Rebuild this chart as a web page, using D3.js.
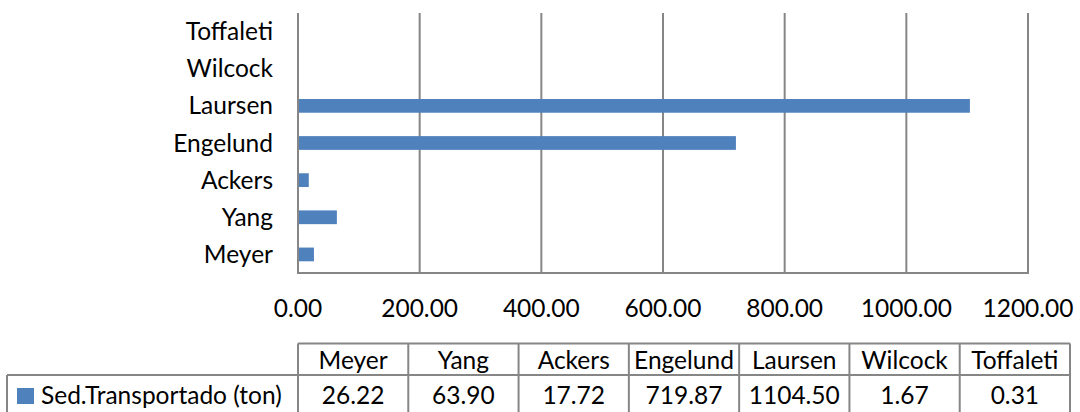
<!DOCTYPE html>
<html>
<head>
<meta charset="utf-8">
<script src="https://cdn.jsdelivr.net/npm/d3@7"></script>
<style>
  html, body { margin: 0; padding: 0; background: #fff; }
  svg { display: block; }
  text { font-family: Lato, "Open Sans", sans-serif; fill: #000; }
</style>
</head>
<body>
<svg id="chart" width="1080" height="412"></svg>
<script>
// ---- data ----
const categories = ["Meyer", "Yang", "Ackers", "Engelund", "Laursen", "Wilcock", "Toffaleti"];
const values = [26.22, 63.90, 17.72, 719.87, 1104.50, 1.67, 0.31];
const seriesName = "Sed.Transportado (ton)";
const tickValues = [0, 200, 400, 600, 800, 1000, 1200];

// ---- layout ----
const W = 1080, H = 412;
const plot = { left: 298, right: 1028, top: 13, bottom: 273 };
const table = { left: 298, right: 1070, legendLeft: 7, top: 343.5, mid: 375, bottom: 420 };
const barColor = "#4F81BD";
const gridColor = "#868686";
const fontSize = 24.5;

const svg = d3.select("#chart");

const x = d3.scaleLinear().domain([0, 1200]).range([plot.left, plot.right]);
const y = d3.scaleBand().domain(categories.slice().reverse()).range([plot.top, plot.bottom]).padding(0);
const barH = y.bandwidth() * 0.37;

// gridlines
svg.append("g").selectAll("line").data(tickValues).join("line")
  .attr("x1", d => x(d)).attr("x2", d => x(d))
  .attr("y1", plot.top).attr("y2", plot.bottom)
  .attr("stroke", gridColor).attr("stroke-width", 2);

// bottom axis line
svg.append("line")
  .attr("x1", plot.left - 1).attr("x2", plot.right + 1)
  .attr("y1", plot.bottom).attr("y2", plot.bottom)
  .attr("stroke", gridColor).attr("stroke-width", 2);

// bars
svg.append("g").selectAll("rect").data(categories).join("rect")
  .attr("x", x(0) + 1)
  .attr("y", d => y(d) + (y.bandwidth() - barH) / 2)
  .attr("width", (d, i) => Math.max(0, x(values[i]) - x(0) - 1))
  .attr("height", barH)
  .attr("fill", barColor);

// category labels
svg.append("g").selectAll("text").data(categories).join("text")
  .attr("x", plot.left - 25)
  .attr("y", d => y(d) + y.bandwidth() / 2 + 8.5)
  .attr("text-anchor", "end")
  .attr("font-size", fontSize)
  .text(d => d);

// x tick labels
svg.append("g").selectAll("text").data(tickValues).join("text")
  .attr("x", d => x(d))
  .attr("y", 317)
  .attr("text-anchor", "middle")
  .attr("font-size", fontSize)
  .text(d => d3.format(".2f")(d));

// ---- data table ----
const colX = d3.scaleBand().domain(categories).range([table.left, table.right]).padding(0);
const tg = svg.append("g");
const line = (x1, y1, x2, y2) => tg.append("line")
  .attr("x1", x1).attr("y1", y1).attr("x2", x2).attr("y2", y2)
  .attr("stroke", gridColor).attr("stroke-width", 2);

line(table.left, table.top, table.right, table.top);
line(table.legendLeft, table.mid, table.right, table.mid);
line(table.legendLeft, table.mid, table.legendLeft, table.bottom);
categories.forEach(c => line(colX(c), table.top, colX(c), table.bottom));
line(table.right, table.top, table.right, table.bottom);

tg.selectAll("text.h").data(categories).join("text").attr("class", "h")
  .attr("x", d => colX(d) + colX.bandwidth() / 2)
  .attr("y", 368.5)
  .attr("text-anchor", "middle")
  .attr("font-size", fontSize)
  .text(d => d);

tg.selectAll("text.v").data(categories).join("text").attr("class", "v")
  .attr("x", d => colX(d) + colX.bandwidth() / 2)
  .attr("y", 404)
  .attr("text-anchor", "middle")
  .attr("font-size", fontSize)
  .text((d, i) => d3.format(".2f")(values[i]));

// legend key
tg.append("rect").attr("x", 17).attr("y", 388).attr("width", 17).attr("height", 16).attr("fill", barColor);
tg.append("text").attr("x", 41).attr("y", 403.5).attr("font-size", fontSize).text(seriesName);
</script>
</body>
</html>
